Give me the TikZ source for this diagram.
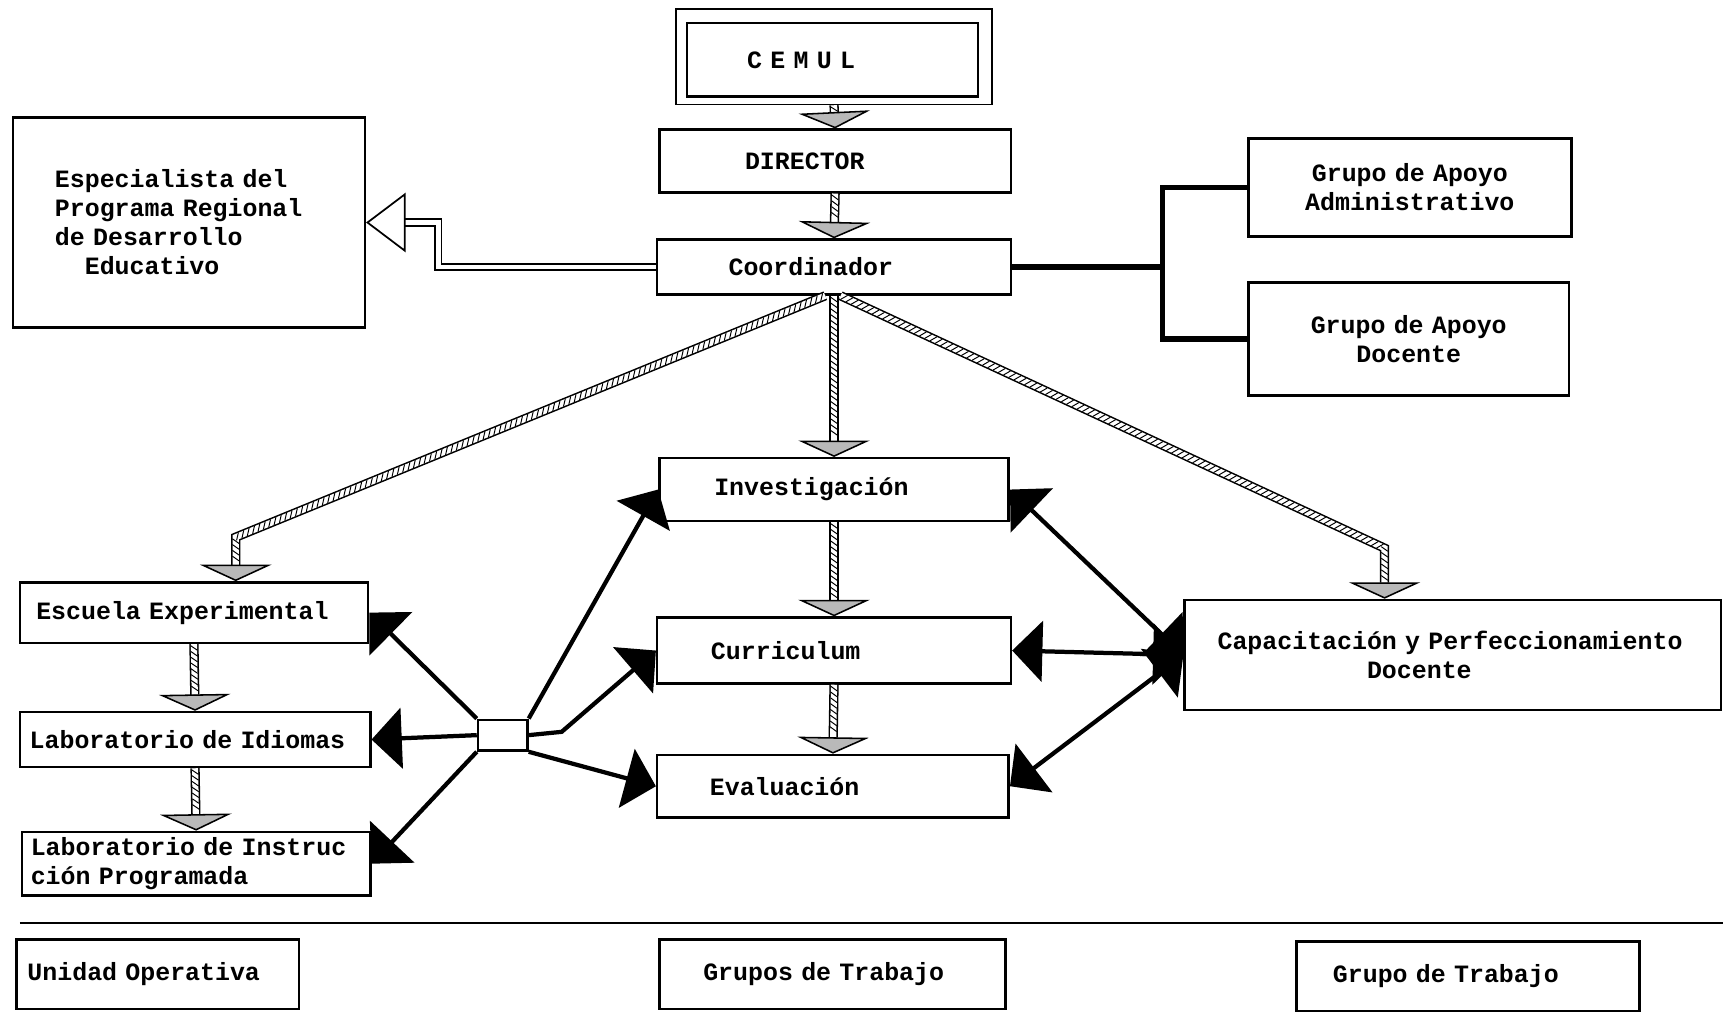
\documentclass[tikz,border=0pt]{standalone}
\usepackage{fontspec}
\setmonofont{Liberation Mono}
\usetikzlibrary{arrows.meta,calc,decorations.markings}

\tikzset{
    box/.style={draw, line width=1.3pt, align=left, inner ysep=2pt,
        font=\ttfamily\bfseries\fontsize{12.9}{15}\selectfont},
    hatch/.style={draw, line width=0.8pt, double=white, double distance=3.2pt,
        -{Triangle[length=0.3cm, width=1.3cm, fill=gray!55]},
        postaction={decorate, decoration={markings,
            mark=between positions 2pt and -0.35cm step 3pt with {\pgfsetarrows{-}\pgfsetlinewidth{0.5pt}%
                \pgfpathmoveto{\pgfpoint{-1.2pt}{-1.7pt}}\pgfpathlineto{\pgfpoint{1.2pt}{1.7pt}}\pgfusepath{stroke}}}}},
    arr/.style={line width=2.2pt, -{Triangle[length=0.55cm, width=1.1cm]}},
    arrboth/.style={line width=2.2pt,
        {Triangle[length=0.55cm, width=1.1cm]}-{Triangle[length=0.55cm, width=1.1cm]}},
    hollow/.style={line width=0.9pt, double, double distance=2.5pt,
        -{Triangle[open, length=0.72cm, width=1.08cm]}},
    thickline/.style={line width=2.8pt},
}

\begin{document}
\begin{tikzpicture}[x=0.02cm, y=-0.02cm]
    \useasboundingbox (0,0) rectangle (1568,923);

    % Caselle in alto
    \node[box, line width=0.9pt, minimum width=5.76cm, minimum height=1.74cm] (cemulout) at (759,51.5) {};
    \node[box, minimum width=5.3cm, minimum height=1.34cm, text width=3.1cm, inner xsep=1.1cm] (cemul) at (757.5,54.5) {C E M U L};
    \node[box, minimum width=6.4cm, minimum height=1.14cm, text width=3.28cm, inner xsep=1.56cm] (director) at (760,146.5) {DIRECTOR};
    \node[box, minimum width=6.44cm, minimum height=1.0cm, text width=3.84cm, inner xsep=1.3cm] (coord) at (759,243) {Coordinador};
    \node[box, minimum width=6.4cm, minimum height=3.82cm, text width=4.88cm, inner xsep=0.76cm] (espec) at (172,202.5)
        {Especialista del\\Programa Regional\\de Desarrollo\\\hphantom{de}Educativo};
    \node[box, align=center, minimum width=5.88cm, minimum height=1.78cm, text width=4.08cm, inner xsep=0.9cm] (adm) at (1283,170.5)
        {Grupo de Apoyo\\Administrativo};
    \node[box, align=center, minimum width=5.84cm, minimum height=2.06cm, text width=4.04cm, inner xsep=0.9cm] (doc) at (1282,308.5)
        {Grupo de Apoyo\\Docente};

    % Gruppi di lavoro
    \node[box, minimum width=6.36cm, minimum height=1.14cm, text width=4.36cm, inner xsep=1.0cm] (inv) at (759,445.5) {Investigación};
    \node[box, minimum width=6.44cm, minimum height=1.2cm, text width=4.48cm, inner xsep=0.98cm] (cur) at (759,592) {Curriculum};
    \node[box, minimum width=6.4cm, minimum height=1.14cm, text width=4.48cm, inner xsep=0.96cm] (eva) at (758,715.5) {Evaluación};
    \node[box, minimum width=9.76cm, minimum height=2.0cm, text width=8.56cm, inner xsep=0.6cm] (cap) at (1322,596)
        {Capacitación y Perfeccionamiento\\\hphantom{Capacitaci}Docente};

    % Unità operativa
    \node[box, minimum width=6.34cm, minimum height=1.1cm, text width=5.74cm, inner xsep=0.3cm] (esc) at (176.5,557.5) {Escuela Experimental};
    \node[box, minimum width=6.38cm, minimum height=1.0cm, text width=6.02cm, inner xsep=0.18cm] (idi) at (177.5,673) {Laboratorio de Idiomas};
    \node[box, minimum width=6.34cm, minimum height=1.16cm, text width=6.02cm, inner xsep=0.16cm] (ins) at (178.5,786)
        {Laboratorio de Instruc\\ción Programada};
    \node[box, minimum width=0.9cm, minimum height=0.56cm] (hub) at (457.5,669) {};

    % Legenda
    \draw[line width=1.3pt] (18,840) -- (1568,840);
    \node[box, minimum width=5.14cm, minimum height=1.26cm, text width=4.74cm, inner xsep=0.2cm] (unidad) at (143.5,886.5) {Unidad Operativa};
    \node[box, minimum width=6.3cm, minimum height=1.26cm, text width=4.7cm, inner xsep=0.8cm] (grupos) at (757.5,886.5) {Grupos de Trabajo};
    \node[box, minimum width=6.24cm, minimum height=1.26cm, text width=4.92cm, inner xsep=0.66cm] (grupo) at (1336,888.5) {Grupo de Trabajo};

    % Collegamenti
    \foreach \a/\b in {cemulout/director, director/coord, inv/cur, cur/eva, esc/idi, idi/ins}
        \draw[hatch] (\a.south) -- (\b.north);
    \draw[hatch] ($(coord.south)+(-8,0)$) -- ($(esc.north)+(38,-40)$) -- ($(esc.north)+(38,0)$);
    \draw[hatch] (coord.south) -- (inv.north);
    \draw[hatch] ($(coord.south)+(6,0)$) -- ($(cap.north)+(-62,-46)$) -- ($(cap.north)+(-62,0)$);

    \draw[hollow] (coord.west) -- ++(-198,0) |- (espec.east);

    \draw[thickline] (coord.east) -- ++(137,0) coordinate (bus);
    \draw[thickline] (adm.west) -| (bus) |- (doc.west);

    \foreach \a/\t/\b in {north west/esc/east, west/idi/east, south west/ins/east, north east/inv/west, south east/eva/west}
        \draw[arr] (hub.\a) -- (\t.\b);
    \draw[arr] (hub.east) -- ++(30,-3) -- (cur.west);

    \foreach \t in {inv, cur, eva}
        \draw[arrboth] (cap.west) -- (\t.east);
\end{tikzpicture}
\end{document}
